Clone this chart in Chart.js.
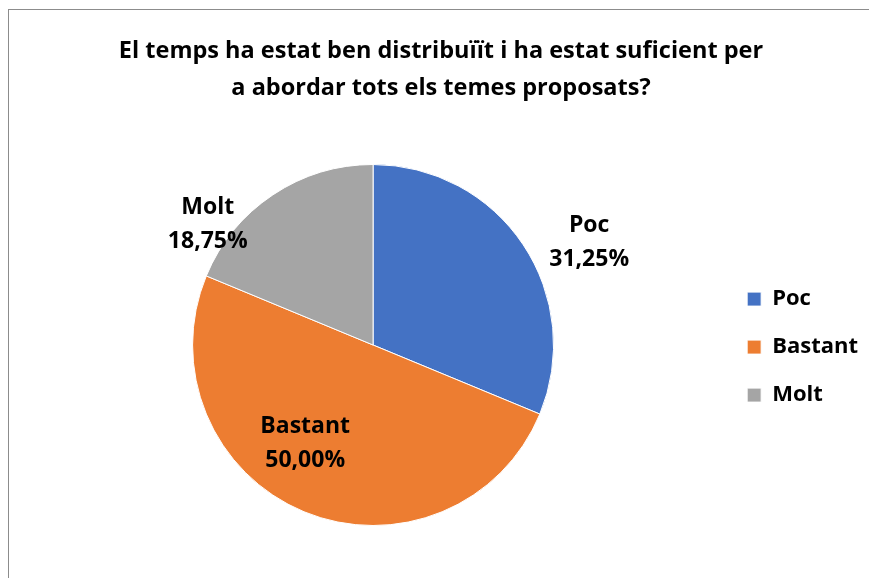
<!DOCTYPE html>
<html>
<head>
<meta charset="utf-8">
<script src="https://cdn.jsdelivr.net/npm/chart.js@4/dist/chart.umd.min.js"></script>
<style>
    html, body { margin: 0; padding: 0; background: #fff; overflow: hidden; }
    #frame { position: absolute; left: 8px; top: 9px; width: 900px; height: 700px; border: 1px solid #8c8c8c; }
    #chart { position: absolute; left: 9px; top: 10px; }
</style>
</head>
<body>
<div id="frame"></div>
<canvas id="chart" width="860" height="568"></canvas>
<script>
// Chart data
const titleLines = ['El temps ha estat ben distribuïït i ha estat suficient per', 'a abordar tots els temes proposats?'];
const categories = ['Poc', 'Bastant', 'Molt'];
const percentages = [31.25, 50.00, 18.75];
const sliceColors = ['#4472C4', '#ED7D31', '#A5A5A5'];

const FONT = '"Open Sans", "Noto Sans", sans-serif';

// Draws "Category / xx,xx%" labels, placed along each slice's mid angle
const sliceLabels = {
    id: 'sliceLabels',
    afterLayout(chart) {
        // title sits a bit left of the full width in the original
        chart.titleBlock.right -= 11;
    },
    afterDatasetsDraw(chart, args, opts) {
        const ctx = chart.ctx;
        const meta = chart.getDatasetMeta(0);
        ctx.save();
        ctx.font = 'bold ' + opts.size + 'px ' + FONT;
        ctx.fillStyle = '#000';
        ctx.textAlign = 'center';
        ctx.textBaseline = 'middle';
        meta.data.forEach((arc, i) => {
            const p = arc.getProps(['x', 'y', 'startAngle', 'endAngle', 'outerRadius'], true);
            const mid = (p.startAngle + p.endAngle) / 2;
            const place = opts.place[i];
            const x = p.x + Math.cos(mid) * p.outerRadius * place.r + place.dx;
            const y = p.y + Math.sin(mid) * p.outerRadius * place.r + place.dy;
            const pct = percentages[i].toFixed(2).replace('.', ',') + '%';
            ctx.fillText(categories[i], x, y - opts.lineHeight / 2);
            ctx.fillText(pct, x, y + opts.lineHeight / 2);
        });
        ctx.restore();
    }
};

new Chart(document.getElementById('chart'), {
    type: 'pie',
    data: {
        labels: categories,
        datasets: [{
            data: percentages,
            backgroundColor: sliceColors,
            borderColor: '#ffffff',
            borderWidth: 1
        }]
    },
    options: {
        responsive: false,
        devicePixelRatio: 1,
        animation: false,
        layout: { padding: { left: 16, right: 1, top: 0, bottom: 52 } },
        plugins: {
            title: {
                display: true,
                text: titleLines,
                color: '#000',
                font: { family: FONT, size: 23.5, weight: 'bold', lineHeight: '37px' },
                padding: { top: 23, bottom: 57 }
            },
            legend: {
                position: 'right',
                // empty legend title only pushes the entries down
                title: { display: true, text: ' ', font: { size: 1 }, padding: { top: 157, bottom: 0 } },
                labels: {
                    color: '#000',
                    boxWidth: 14,
                    boxHeight: 14,
                    padding: 26,
                    font: { family: FONT, size: 22, weight: 'bold' }
                }
            },
            tooltip: { enabled: false },
            sliceLabels: {
                size: 23,
                lineHeight: 34,
                place: [
                    { r: 1.2, dx: 36, dy: 18 },
                    { r: 0.65, dx: -23, dy: -10 },
                    { r: 1.1, dx: -55, dy: 45 }
                ]
            }
        }
    },
    plugins: [sliceLabels]
});
</script>
</body>
</html>
